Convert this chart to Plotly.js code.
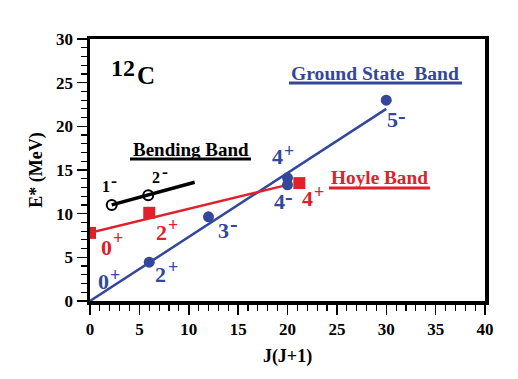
<!DOCTYPE html>
<html>
<head>
<meta charset="utf-8">
<script src="https://cdn.plot.ly/plotly-3.0.1.min.js"></script>
<style>html,body{margin:0;padding:0;background:#fff;}#chart{width:518px;height:379px;}</style>
</head>
<body>
<div id="chart"></div>
<script>
// Ground state band (J(J+1), E* MeV)
const groundJ = [6, 12, 20, 20, 30];
const groundE = [4.44, 9.64, 14.1, 13.3, 23.0];
const groundLineJ = [0, 30];
const groundLineE = [0, 22.0];
// Hoyle band
const hoyleJ = [0, 6, 21.2];
const hoyleE = [7.8, 10.1, 13.5];
const hoyleLineJ = [0, 20];
const hoyleLineE = [7.8, 13.3];
// Bending band
const bendJ = [2.2, 5.9];
const bendE = [11.0, 12.1];
const bendLineJ = [2.2, 10.6];
const bendLineE = [11.0, 13.6];
// Tick labels
const xTicks = [0, 5, 10, 15, 20, 25, 30, 35, 40];
const yTicks = [0, 5, 10, 15, 20, 25, 30];

const BLUE = '#33479b';
const RED = '#e0202a';
const BLACK = '#000000';
const SERIF = 'Liberation Serif, Times New Roman, serif';

const traces = [
  {x: groundLineJ, y: groundLineE, mode: 'lines', line: {color: BLUE, width: 2.5}, hoverinfo: 'skip'},
  {x: hoyleLineJ, y: hoyleLineE, mode: 'lines', line: {color: RED, width: 2.5}, hoverinfo: 'skip'},
  {x: bendLineJ, y: bendLineE, mode: 'lines', line: {color: BLACK, width: 3.5}, hoverinfo: 'skip'},
  {x: groundJ, y: groundE, mode: 'markers', marker: {color: BLUE, size: 11, symbol: 'circle'}},
  {x: hoyleJ, y: hoyleE, mode: 'markers', marker: {color: RED, size: 12, symbol: 'square'}},
  {x: bendJ, y: bendE, mode: 'markers', marker: {color: BLACK, size: 10, symbol: 'circle-open', line: {width: 2, color: BLACK}}}
];

function txt(text, x, y, color, size, dx, dy) {
  return {text: '<b>' + text + '</b>', x: x, y: y, xref: 'x', yref: 'y', showarrow: false,
    xshift: dx || 0, yshift: dy || 0,
    font: {family: SERIF, size: size, color: color}, xanchor: 'center', yanchor: 'middle'};
}
// state label: spin digit plus raised parity sign (two texts)
function st(j, p, x, y, color, dx, dy, small) {
  const dSize = small ? 16 : 22;
  const pSize = p === '+' ? (small ? 14 : 18) : (small ? 18 : 23);
  return [txt(j, x, y, color, dSize), txt(p, x, y, color, pSize, dx, dy)];
}

const annotations = [
  txt('12', 3.34, 26.69, BLACK, 24),
  txt('C', 5.72, 25.83, BLACK, 25),
  txt('Bending Band', 10.2, 17.4, BLACK, 19),
  txt('Ground State  Band', 28.9, 26.1, BLUE, 19.6),
  txt('Hoyle Band', 29.3, 14.1, RED, 19.3)
].concat(
  st('0', '+', 1.32, 2.23, BLUE, 11.5, 7),
  st('2', '+', 7.14, 3.09, BLUE, 12.5, 7),
  st('3', '-', 13.47, 8.13, BLUE, 11, 6),
  st('4', '+', 18.94, 16.55, BLUE, 12, 5),
  st('4', '-', 19.24, 11.40, BLUE, 9.5, 3.5),
  st('5', '-', 30.68, 20.73, BLUE, 9.5, 3.5),
  st('0', '+', 1.62, 6.13, RED, 12, 9),
  st('2', '+', 7.19, 7.85, RED, 12, 7.5),
  st('4', '+', 22.03, 11.74, RED, 11, 6.5),
  st('1', '-', 1.67, 13.12, BLACK, 7.5, 5, true),
  st('2', '-', 6.68, 14.15, BLACK, 9, 5, true)
);

const shapes = [
  {type: 'line', xref: 'x', yref: 'y', x0: 4.05, x1: 16.3, y0: 16.27, y1: 16.27, line: {color: BLACK, width: 3}},
  {type: 'line', xref: 'x', yref: 'y', x0: 20.15, x1: 37.67, y0: 24.97, y1: 24.97, line: {color: BLUE, width: 3}},
  {type: 'line', xref: 'x', yref: 'y', x0: 24.2, x1: 34.43, y0: 12.94, y1: 12.94, line: {color: RED, width: 3}}
];

const axisCommon = {
  showgrid: false, zeroline: false, showline: true, linecolor: BLACK, linewidth: 3.5, mirror: true,
  ticks: 'outside', ticklen: 10, tickwidth: 1.5, tickcolor: BLACK,
  tickfont: {family: SERIF, size: 17, color: BLACK, weight: 'bold'},
  minor: {dtick: 1, ticks: 'outside', ticklen: 6, tickwidth: 1.2, tickcolor: BLACK},
  automargin: false, fixedrange: true
};

const layout = {
  width: 518, height: 379,
  margin: {l: 90, r: 33, t: 39, b: 78},
  paper_bgcolor: '#fff', plot_bgcolor: '#fff',
  showlegend: false,
  xaxis: Object.assign({}, axisCommon, {
    range: [0, 40], tickmode: 'array', tickvals: xTicks, ticktext: xTicks.map(String),
    title: {text: '<b>J(J+1)</b>', font: {family: SERIF, size: 18, color: BLACK}, standoff: 12}
  }),
  yaxis: Object.assign({}, axisCommon, {
    range: [0, 30], tickmode: 'array', tickvals: yTicks, ticktext: yTicks.map(String),
    title: {text: '<b>E* (MeV)</b>', font: {family: SERIF, size: 18, color: BLACK}, standoff: 10}
  }),
  annotations: annotations,
  shapes: shapes
};

Plotly.newPlot('chart', traces, layout, {staticPlot: true, displayModeBar: false});
</script>
</body>
</html>
